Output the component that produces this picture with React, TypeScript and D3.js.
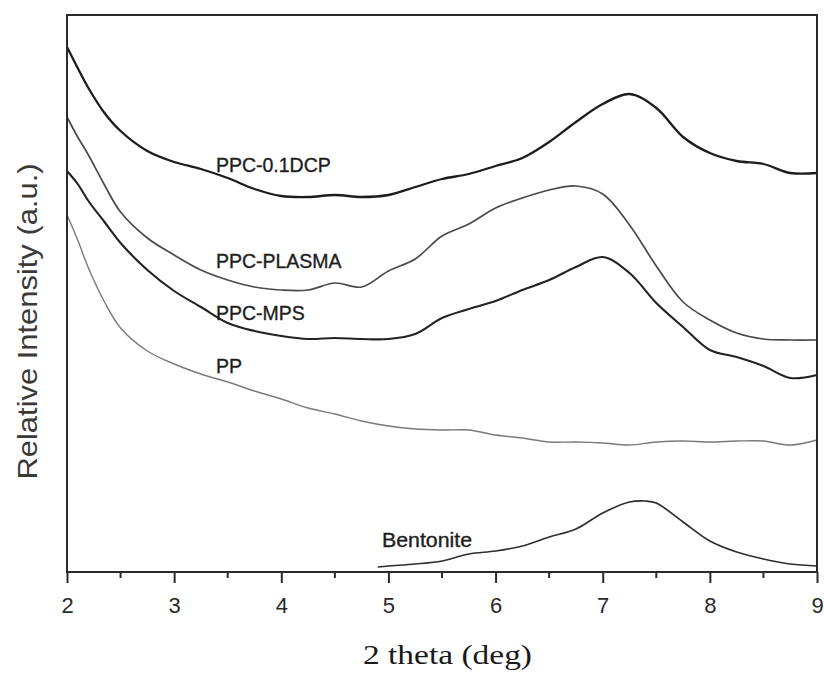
import React, { useEffect, useRef } from 'react';
import * as d3 from 'd3';

// 2 theta grid shared by the four composite/polymer scans
const theta = [2, 2.1, 2.2, 2.35, 2.5, 2.75, 3, 3.25, 3.5, 3.75, 4, 4.25, 4.5, 4.75, 5, 5.25, 5.5, 5.75, 6, 6.25, 6.5, 6.75, 7, 7.25, 7.5, 7.75, 8, 8.25, 8.5, 8.75, 9];

// relative intensity (a.u.)
const dcp = [525, 504, 484, 459, 441, 421, 410, 403, 394, 383, 376, 375, 377, 375, 377, 385, 393, 398, 406, 414, 430, 450, 468, 478, 464, 435, 419, 411, 408, 399, 399];
const plasma = [455, 435, 417, 387, 360, 334, 317, 302, 292, 285, 282, 282, 289, 285, 301, 313, 336, 348, 364, 374, 382, 386, 378, 347, 306, 270, 252, 239, 233, 232, 232];
const mps = [401, 388, 371, 350, 329, 302, 281, 265, 249, 241, 236, 233, 234, 233, 233, 238, 254, 263, 271, 282, 292, 305, 315, 299, 269, 245, 222, 215, 206, 194, 197];
const pp = [357, 332, 304, 270, 244, 221, 208, 198, 190, 181, 173, 164, 158, 151, 146, 143, 142, 142, 137, 134, 130, 130, 129, 127, 130, 131, 130, 131, 131, 127, 132];

const bentoniteTheta = [4.9, 5, 5.25, 5.5, 5.75, 6, 6.25, 6.5, 6.75, 7, 7.25, 7.4, 7.5, 7.75, 8, 8.25, 8.5, 8.75, 9];
const bentonite = [5, 6, 8, 11, 18, 21, 26, 35, 43, 59, 70, 71, 69, 50, 31, 20, 13, 8, 6];

const xTicks = [2, 3, 4, 5, 6, 7, 8, 9];
const xMinorTicks = [2.5, 3.5, 4.5, 5.5, 6.5, 7.5, 8.5];

const seriesNames = ['PPC-0.1DCP', 'PPC-PLASMA', 'PPC-MPS', 'PP', 'Bentonite'];
// label anchor in data units (theta, intensity)
const labelTheta = [3.39, 3.39, 3.39, 3.39, 4.94];
const labelValue = [400, 304, 252, 199, 25];

const W = 824;
const H = 675;
const margin = { top: 15, right: 7, bottom: 103, left: 67 };

const SANS = "'Liberation Sans', Arial, sans-serif";
const SERIF = "'Liberation Serif', 'Times New Roman', serif";

const App = () => {
  const svgRef = useRef<SVGSVGElement>(null);

  useEffect(() => {
    const svg = d3.select(svgRef.current);
    svg.selectAll('*').remove();

    const x = d3.scaleLinear().domain([2, 9]).range([margin.left, W - margin.right]);
    const y = d3.scaleLinear().domain([0, 557]).range([H - margin.bottom, margin.top]);

    const series = [
      { name: seriesNames[0], xs: theta, ys: dcp, color: '#1c1c1c', width: 2.3 },
      { name: seriesNames[1], xs: theta, ys: plasma, color: '#4a4a4a', width: 1.7 },
      { name: seriesNames[2], xs: theta, ys: mps, color: '#232323', width: 2.1 },
      { name: seriesNames[3], xs: theta, ys: pp, color: '#7a7a7a', width: 1.4 },
      { name: seriesNames[4], xs: bentoniteTheta, ys: bentonite, color: '#2e2e2e', width: 1.7 },
    ];

    const line = d3.line<[number, number]>()
      .x(d => x(d[0]))
      .y(d => y(d[1]))
      .curve(d3.curveCatmullRom.alpha(0.5));

    const plot = svg.append('g');

    series.forEach((s, i) => {
      const pts: [number, number][] = s.xs.map((t, j) => [t, s.ys[j]]);
      plot.append('path')
        .datum(pts)
        .attr('d', line)
        .attr('fill', 'none')
        .attr('stroke', s.color)
        .attr('stroke-width', s.width)
        .attr('stroke-linejoin', 'round');

      const label = plot.append('text')
        .attr('x', x(labelTheta[i]))
        .attr('y', y(labelValue[i]))
        .attr('font-family', SANS)
        .attr('font-size', 19.5)
        .attr('fill', '#1e1e1e')
        .attr('stroke', '#1e1e1e')
        .attr('stroke-width', 0.35)
        .text(s.name);
      if (i === 4) label.attr('textLength', 90).attr('lengthAdjust', 'spacingAndGlyphs');
    });

    // frame
    svg.append('rect')
      .attr('x', margin.left)
      .attr('y', margin.top)
      .attr('width', W - margin.left - margin.right)
      .attr('height', H - margin.top - margin.bottom)
      .attr('fill', 'none')
      .attr('stroke', '#2a2a2a')
      .attr('stroke-width', 2);

    // x axis, ticks pointing down
    const xAxisG = svg.append('g').attr('transform', `translate(0,${H - margin.bottom})`);
    xAxisG.call(
      d3.axisBottom(x).tickValues(xTicks).tickSize(11).tickPadding(14).tickFormat(d3.format('d'))
    );
    xAxisG.select('.domain').remove();
    xAxisG.selectAll('.tick line').attr('stroke', '#2a2a2a').attr('stroke-width', 2);
    xAxisG.selectAll('.tick text')
      .attr('font-family', SANS)
      .attr('font-size', 22)
      .attr('fill', '#2a2a2a');

    xAxisG.selectAll('.minor')
      .data(xMinorTicks)
      .join('line')
      .attr('class', 'minor')
      .attr('x1', d => x(d))
      .attr('x2', d => x(d))
      .attr('y1', 0)
      .attr('y2', 6)
      .attr('stroke', '#2a2a2a')
      .attr('stroke-width', 2);

    svg.append('text')
      .attr('x', 363)
      .attr('y', 664)
      .attr('font-family', SERIF)
      .attr('font-size', 27)
      .attr('fill', '#1a1a1a')
      .attr('textLength', 169)
      .attr('lengthAdjust', 'spacingAndGlyphs')
      .text('2 theta (deg)');

    svg.append('text')
      .attr('transform', `translate(37,${(H - margin.bottom + margin.top) / 2 + 28}) rotate(-90)`)
      .attr('text-anchor', 'middle')
      .attr('font-family', SANS)
      .attr('font-size', 28)
      .attr('fill', '#3a3a3a')
      .attr('textLength', 316)
      .attr('lengthAdjust', 'spacingAndGlyphs')
      .text('Relative Intensity (a.u.)');
  }, []);

  return (
    <svg
      ref={svgRef}
      width={W}
      height={H}
      style={{ position: 'absolute', left: 0, top: 0, background: '#fff' }}
    />
  );
};

export default App;
